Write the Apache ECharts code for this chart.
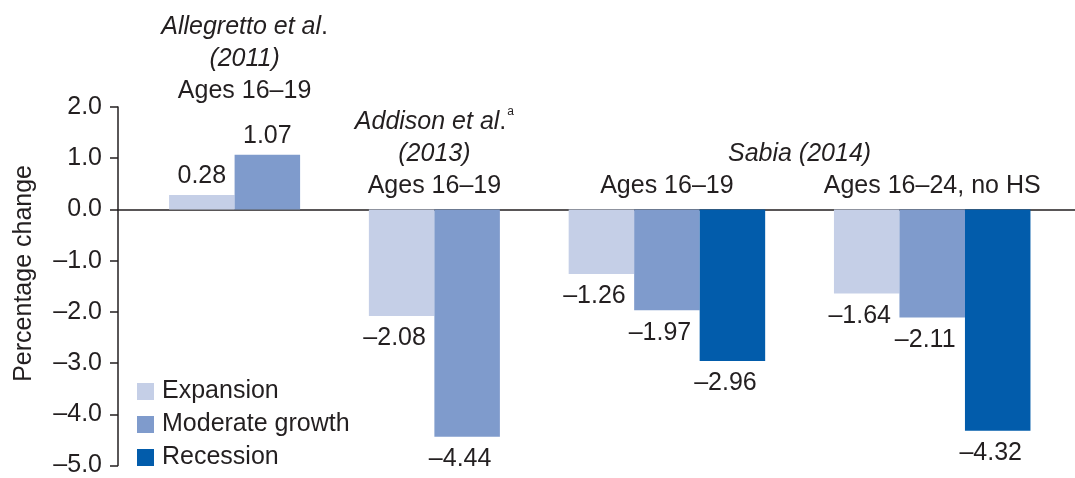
<!DOCTYPE html>
<html>
<head>
<meta charset="utf-8">
<script src="https://cdn.jsdelivr.net/npm/echarts@6/dist/echarts.min.js"></script>
<style>
html,body{margin:0;padding:0;background:#fff;}
#chart{width:1075px;height:478px;}
</style>
</head>
<body>
<div id="chart"></div>
<script>
// ---- data ----
const groupNames = ['Allegretto et al. (2011), Ages 16–19', 'Addison et al. (2013), Ages 16–19', 'Sabia (2014), Ages 16–19', 'Sabia (2014), Ages 16–24, no HS'];
const seriesNames = ['Expansion', 'Moderate growth', 'Recession'];
const expansion = [0.28, -2.08, -1.26, -1.64];
const moderate = [1.07, -4.44, -1.97, -2.11];
const recession = [null, null, -2.96, -4.32];
const yTickValues = [-5, -4, -3, -2, -1, 0, 1, 2];
const yAxisTitle = 'Percentage change';
const headerLines = [
  ['{i|Allegretto et al}.', '{i|(2011)}', 'Ages 16–19'],
  ['{i|Addison et al}.{sup|a}', '{i|(2013)}', 'Ages 16–19'],
  ['Ages 16–19'],
  ['Ages 16–24, no HS']
];
const spanHeader = {text: 'Sabia (2014)', fromGroup: 2, toGroup: 3};

// ---- layout / style ----
const colors = ['#c5cfe7', '#7f9bcc', '#025cab'];
const textColor = '#231f20';
const FONT = '"Liberation Sans", Arial, sans-serif';
const FS = 25;
const GAP = 1.05;      // gap between groups in bar widths
const LEFT_PAD = 0.78;
const RIGHT_PAD = 0.68;
const headerXOffset = [10, 0, 0, 0];
const headerBottomY = [107, 202, 202, 202];
const LINE_H = 32;

const seriesData = [expansion, moderate, recession];
const groupSizes = expansion.map((_, g) => seriesData.filter(s => s[g] !== null && s[g] !== undefined).length);
const groupStart = [];
let acc = 0;
groupSizes.forEach((n, g) => { groupStart.push(acc); acc += n + GAP; });
const totalSlots = acc - GAP;

function fmt(v, d) {
  return (v < 0 ? '–' : '') + Math.abs(v).toFixed(d);
}

const chart = echarts.init(document.getElementById('chart'));

function barRender(params, api) {
  const x0 = api.value(0), v = api.value(1);
  const pA = api.coord([x0, v]);
  const pB = api.coord([x0 + 1, 0]);
  const x = pA[0], w = pB[0] - pA[0];
  const top = Math.min(pA[1], pB[1]);
  const h = Math.abs(pA[1] - pB[1]);
  const cx = x + w / 2;
  const label = v >= 0
    ? {type: 'text', style: {text: fmt(v, 2), x: cx, y: pA[1] - 6, align: 'center', verticalAlign: 'bottom', fontSize: FS, fontFamily: FONT, fill: textColor}}
    : {type: 'text', style: {text: fmt(v, 2), x: cx - 7, y: pA[1] + 10, align: 'center', verticalAlign: 'top', fontSize: FS, fontFamily: FONT, fill: textColor}};
  return {type: 'group', children: [
    {type: 'rect', shape: {x: x, y: top, width: w, height: h}, style: {fill: api.visual('color')}},
    label
  ]};
}

const barSeries = seriesNames.map((name, i) => ({
  name: name,
  type: 'custom',
  renderItem: barRender,
  itemStyle: {color: colors[i]},
  encode: {x: 0, y: 1},
  data: seriesData[i].map((v, g) => v === null ? null : [groupStart[g] + i, v]).filter(d => d !== null),
  z: 2
}));

const richStyles = {
  i: {fontStyle: 'italic', fontSize: FS, fontFamily: FONT, color: textColor, lineHeight: LINE_H},
  sup: {fontSize: 12, fontFamily: FONT, color: textColor, verticalAlign: 'top', lineHeight: LINE_H, padding: [0, 0, 14, 1]}
};

const headerSeries = {
  type: 'custom',
  name: 'headers',
  silent: true,
  encode: {x: 0, y: 1},
  data: headerLines.map((lines, g) => [groupStart[g] + groupSizes[g] / 2, 0, g]),
  renderItem: function (params, api) {
    const g = api.value(2);
    const cx = api.coord([api.value(0), 0])[0] + headerXOffset[g];
    return {type: 'text', style: {
      text: headerLines[g].join('\n'),
      x: cx, y: headerBottomY[g], align: 'center', verticalAlign: 'bottom',
      fontSize: FS, fontFamily: FONT, fill: textColor, lineHeight: LINE_H,
      rich: richStyles
    }};
  }
};

const spanSeries = {
  type: 'custom',
  name: 'span',
  silent: true,
  encode: {x: 0, y: 1},
  data: [[(groupStart[spanHeader.fromGroup] + groupStart[spanHeader.toGroup] + groupSizes[spanHeader.toGroup]) / 2, 0]],
  renderItem: function (params, api) {
    const cx = api.coord([api.value(0), 0])[0];
    return {type: 'text', style: {
      text: spanHeader.text, x: cx, y: headerBottomY[2] - LINE_H, align: 'center', verticalAlign: 'bottom',
      fontSize: FS, fontStyle: 'italic', fontFamily: FONT, fill: textColor, lineHeight: LINE_H
    }};
  }
};

chart.setOption({
  animation: false,
  backgroundColor: '#ffffff',
  textStyle: {fontFamily: FONT, color: textColor},
  grid: {left: 118, right: 0, top: 107, bottom: 10},
  graphic: [{
    type: 'text', left: 12, top: 165,
    rotation: Math.PI / 2,
    style: {text: yAxisTitle, fontSize: FS, fontFamily: FONT, fill: textColor}
  }],
  legend: {
    data: seriesNames.map(n => ({name: n, icon: 'rect'})),
    orient: 'vertical',
    left: 137, top: 379,
    itemWidth: 17, itemHeight: 17, itemGap: 8,
    padding: 0,
    textStyle: {fontSize: FS, fontFamily: FONT, color: textColor, lineHeight: 25, padding: [0, 0, 0, 3]},
    selectedMode: false
  },
  xAxis: {
    type: 'value',
    min: -LEFT_PAD,
    max: totalSlots + RIGHT_PAD,
    axisLine: {show: true, onZero: true, lineStyle: {color: textColor, width: 1.5}},
    axisTick: {show: false},
    axisLabel: {show: false},
    splitLine: {show: false}
  },
  yAxis: {
    type: 'value',
    min: yTickValues[0],
    max: yTickValues[yTickValues.length - 1],
    interval: 1,
    axisLine: {show: true, onZero: false, lineStyle: {color: textColor, width: 1.5}},
    axisTick: {show: true, length: 8, lineStyle: {color: textColor, width: 1.5}},
    axisLabel: {fontSize: FS, fontFamily: FONT, color: textColor, margin: 16, formatter: v => fmt(v, 1)},
    splitLine: {show: false}
  },
  series: barSeries.concat([headerSeries, spanSeries])
});
</script>
</body>
</html>
